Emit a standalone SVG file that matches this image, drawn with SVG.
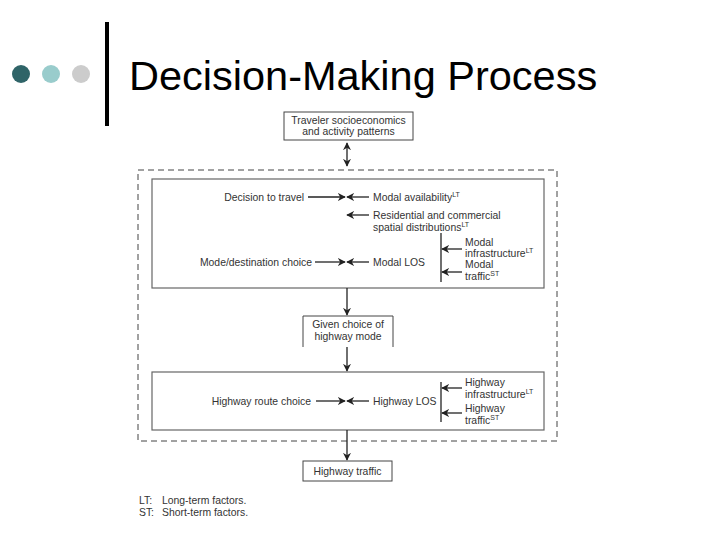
<svg xmlns="http://www.w3.org/2000/svg" width="720" height="540" viewBox="0 0 720 540">
<defs>
<style>
.t{font-family:"Liberation Sans",Arial,sans-serif;font-size:10.4px;fill:#333}
.s{font-size:7px}
.box{fill:#fff;stroke:#444;stroke-width:1}
.ibox{fill:#fff;stroke:#666;stroke-width:1.2}
.ln{stroke:#222;stroke-width:1.3;fill:none}
</style>
<marker id="ah" viewBox="0 0 10 10" refX="9" refY="5" markerWidth="8" markerHeight="8" markerUnits="userSpaceOnUse" orient="auto-start-reverse">
<path d="M0,0 L10,5 L0,10 L3,5 Z" fill="#222"/>
</marker>
</defs>
<rect width="720" height="540" fill="#fff"/>
<g id="header">
<circle cx="21" cy="74" r="9" fill="#2f6468"/>
<circle cx="51" cy="74" r="9" fill="#99cccc"/>
<circle cx="81" cy="74" r="9" fill="#cccccc"/>
<rect x="105" y="22" width="4" height="104" fill="#000"/>
<text x="129" y="90" font-family="'Liberation Sans',Arial,sans-serif" font-size="41.5" fill="#000">Decision-Making Process</text>
</g>
<g id="outer">
<rect x="138" y="170" width="419" height="271" fill="none" stroke="#444" stroke-width="1" stroke-dasharray="6,4"/>
</g>
<g id="traveler">
<rect class="box" x="284" y="112" width="129" height="28"/>
<text class="t" x="348.5" y="124" text-anchor="middle">Traveler socioeconomics</text>
<text class="t" x="348.5" y="135" text-anchor="middle">and activity patterns</text>
</g>
<g id="mode-box">
<rect class="ibox" x="152" y="179" width="392" height="109"/>
<text class="t" x="304" y="201" text-anchor="end">Decision to travel</text>
<text class="t" x="373" y="201">Modal availability<tspan class="s" dy="-4">LT</tspan></text>
<text class="t" x="373" y="219">Residential and commercial</text>
<text class="t" x="373" y="231">spatial distributions<tspan class="s" dy="-4">LT</tspan></text>
<text class="t" x="312" y="266" text-anchor="end">Mode/destination choice</text>
<text class="t" x="373" y="266">Modal LOS</text>
<text class="t" x="465" y="246">Modal</text>
<text class="t" x="465" y="257">infrastructure<tspan class="s" dy="-4">LT</tspan></text>
<text class="t" x="465" y="268">Modal</text>
<text class="t" x="465" y="280">traffic<tspan class="s" dy="-4">ST</tspan></text>
</g>
<g id="given">
<path d="M303,347 V316 H393 V347" fill="#fff" stroke="#444" stroke-width="1"/>
<text class="t" x="348" y="328" text-anchor="middle">Given choice of</text>
<text class="t" x="348" y="340" text-anchor="middle">highway mode</text>
</g>
<g id="highway-box">
<rect class="ibox" x="152" y="372" width="392" height="58"/>
<text class="t" x="311" y="405" text-anchor="end">Highway route choice</text>
<text class="t" x="373" y="405">Highway LOS</text>
<text class="t" x="465" y="386">Highway</text>
<text class="t" x="465" y="398">infrastructure<tspan class="s" dy="-4">LT</tspan></text>
<text class="t" x="465" y="412">Highway</text>
<text class="t" x="465" y="424">traffic<tspan class="s" dy="-4">ST</tspan></text>
</g>
<g id="traffic">
<rect class="box" x="303" y="461" width="89" height="20"/>
<text class="t" x="347.5" y="475" text-anchor="middle">Highway traffic</text>
</g>
<g id="legend">
<text class="t" x="139" y="504">LT:</text><text class="t" x="162" y="504" font-size="10.8">Long-term factors.</text>
<text class="t" x="139" y="516">ST:</text><text class="t" x="162" y="516" font-size="10.8">Short-term factors.</text>
</g>
<g id="connectors">
<line class="ln" x1="347" y1="143" x2="347" y2="166" marker-start="url(#ah)" marker-end="url(#ah)"/>
<line class="ln" x1="308" y1="197" x2="345" y2="197" marker-end="url(#ah)"/>
<line class="ln" x1="369" y1="197" x2="347" y2="197" marker-end="url(#ah)"/>
<line class="ln" x1="369" y1="215" x2="347" y2="215" marker-end="url(#ah)"/>
<line class="ln" x1="315" y1="262" x2="345" y2="262" marker-end="url(#ah)"/>
<line class="ln" x1="369" y1="262" x2="347" y2="262" marker-end="url(#ah)"/>
<line class="ln" x1="441" y1="233" x2="441" y2="282"/>
<line class="ln" x1="462" y1="249" x2="442" y2="249" marker-end="url(#ah)"/>
<line class="ln" x1="462" y1="272" x2="442" y2="272" marker-end="url(#ah)"/>
<line class="ln" x1="347" y1="288" x2="347" y2="315" marker-end="url(#ah)"/>
<line class="ln" x1="347" y1="347" x2="347" y2="371" marker-end="url(#ah)"/>
<line class="ln" x1="316" y1="401" x2="345" y2="401" marker-end="url(#ah)"/>
<line class="ln" x1="369" y1="401" x2="347" y2="401" marker-end="url(#ah)"/>
<line class="ln" x1="441" y1="382" x2="441" y2="422"/>
<line class="ln" x1="462" y1="388" x2="442" y2="388" marker-end="url(#ah)"/>
<line class="ln" x1="462" y1="413" x2="442" y2="413" marker-end="url(#ah)"/>
<line class="ln" x1="347" y1="430" x2="347" y2="460" marker-end="url(#ah)"/>
</g>
</svg>
